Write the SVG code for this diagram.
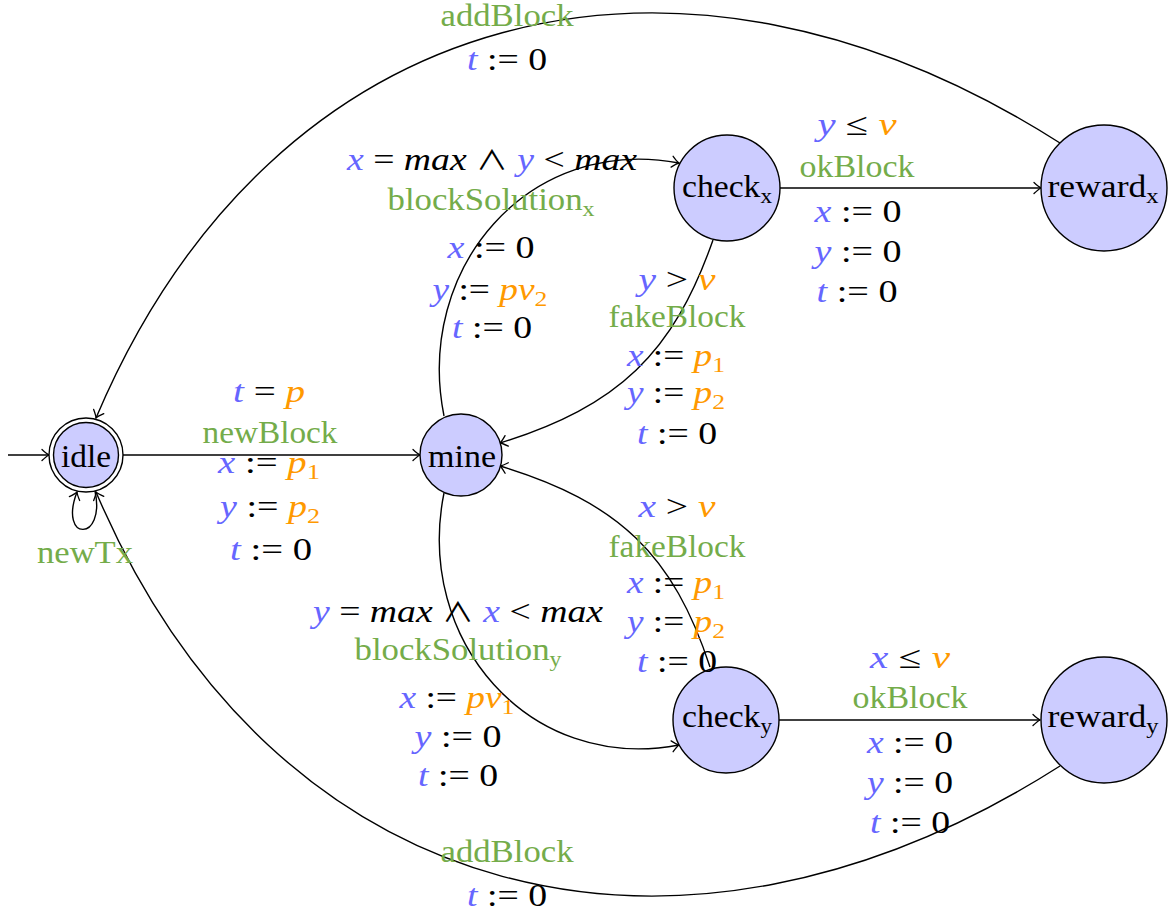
<svg xmlns="http://www.w3.org/2000/svg" width="1170" height="913" viewBox="0 0 1170 913">
<defs>
<marker id="arr" viewBox="-10 -8 12 16" markerWidth="12" markerHeight="16" refX="0" refY="0" orient="auto" markerUnits="userSpaceOnUse" overflow="visible">
<path d="M -7 -5.5 Q -2.5 -1.2 0 0 Q -2.5 1.2 -7 5.5" fill="none" stroke="#000" stroke-width="1.3" stroke-linecap="round"/>
</marker>
<style>
.edge{fill:none;stroke:#000;stroke-width:1.4;marker-end:url(#arr)}
.node{fill:#CCCCFF;stroke:#000;stroke-width:1.4}
text{font-family:"Liberation Serif","DejaVu Serif",serif;font-size:32px;text-anchor:middle;fill:#000}
.v{fill:#6666FF;font-style:italic}
.o{fill:#FF9900;font-style:italic}
.os{fill:#FF9900;font-size:22px}
.g{fill:#74AC4A}
.i{font-style:italic}
.s{font-size:22px}
.w{font-family:"Noto Sans CJK JP","DejaVu Sans",sans-serif;font-size:27px}
</style>
</defs>
<rect width="1170" height="913" fill="#fff"/>

<g id="connectors">
<path class="edge" d="M 8 455 L 49 455"/>
<path class="edge" d="M 123 455 L 420 455"/>
<path class="edge" d="M 95 491 C 106 542, 58 542, 77 492"/>
<path class="edge" d="M 1060 143 C 680.7 -99.1, 273.3 -0.55, 96 418"/>
<path class="edge" d="M 1060 766 C 680.7 1008, 273.3 909.5, 96 492"/>
<path class="edge" d="M 444 416 C 414.5 269, 528 134.5, 679 163"/>
<path class="edge" d="M 713 240 C 673.4 352.8, 619 406, 500 443"/>
<path class="edge" d="M 444 493 C 414.5 639, 528 773.5, 679 745"/>
<path class="edge" d="M 710 667 C 673.4 555.2, 619 502, 500 466"/>
<path class="edge" d="M 780 188 L 1041 188"/>
<path class="edge" d="M 779 720 L 1040 720"/>
</g>

<g id="idle">
<circle cx="86" cy="455" r="37" fill="#fff" stroke="#000" stroke-width="1.4"/>
<circle cx="86" cy="455" r="32.5" class="node"/>
<text x="86" y="467" textLength="50" lengthAdjust="spacingAndGlyphs">idle</text>
</g>
<g id="mine">
<circle cx="461" cy="455" r="41" class="node"/>
<text x="462" y="467" textLength="68" lengthAdjust="spacingAndGlyphs">mine</text>
</g>
<g id="check_x">
<circle cx="727" cy="188" r="53" class="node"/>
<text x="727" y="197" textLength="90" lengthAdjust="spacingAndGlyphs">check<tspan class="s" dy="6">x</tspan></text>
</g>
<g id="reward_x">
<circle cx="1104" cy="188" r="63" class="node"/>
<text x="1103" y="197" textLength="111" lengthAdjust="spacingAndGlyphs">reward<tspan class="s" dy="6">x</tspan></text>
</g>
<g id="check_y">
<circle cx="726" cy="720" r="53" class="node"/>
<text x="727" y="727" textLength="90" lengthAdjust="spacingAndGlyphs">check<tspan class="s" dy="6">y</tspan></text>
</g>
<g id="reward_y">
<circle cx="1104" cy="720" r="63" class="node"/>
<text x="1103" y="727" textLength="111" lengthAdjust="spacingAndGlyphs">reward<tspan class="s" dy="6">y</tspan></text>
</g>

<g id="edge-labels">
<!-- idle -> mine -->
<text x="269" y="402" textLength="72" lengthAdjust="spacingAndGlyphs"><tspan class="v">t</tspan> = <tspan class="o">p</tspan></text>
<text x="270" y="443" class="g" textLength="135" lengthAdjust="spacingAndGlyphs">newBlock</text>
<text x="269" y="473" textLength="102" lengthAdjust="spacingAndGlyphs"><tspan class="v">x</tspan> := <tspan class="o">p</tspan><tspan class="os" dy="6">1</tspan></text>
<text x="270" y="517" textLength="100" lengthAdjust="spacingAndGlyphs"><tspan class="v">y</tspan> := <tspan class="o">p</tspan><tspan class="os" dy="6">2</tspan></text>
<text x="271" y="560" textLength="82" lengthAdjust="spacingAndGlyphs"><tspan class="v">t</tspan> := 0</text>
<!-- idle loop -->
<text x="85" y="563" class="g" textLength="96" lengthAdjust="spacingAndGlyphs">newTx</text>
<!-- reward_x -> idle -->
<text x="507" y="26" class="g" textLength="133" lengthAdjust="spacingAndGlyphs">addBlock</text>
<text x="507" y="70" textLength="80" lengthAdjust="spacingAndGlyphs"><tspan class="v">t</tspan> := 0</text>
<!-- reward_y -> idle -->
<text x="507" y="862" class="g" textLength="133" lengthAdjust="spacingAndGlyphs">addBlock</text>
<text x="507" y="906" textLength="80" lengthAdjust="spacingAndGlyphs"><tspan class="v">t</tspan> := 0</text>
<!-- mine -> check_x -->
<text x="492" y="170" textLength="290" lengthAdjust="spacingAndGlyphs"><tspan class="v">x</tspan> = <tspan class="i">max</tspan> <tspan class="w">∧</tspan> <tspan class="v">y</tspan> &lt; <tspan class="i">max</tspan></text>
<text x="491" y="210" class="g" textLength="207" lengthAdjust="spacingAndGlyphs">blockSolution<tspan class="s" dy="6">x</tspan></text>
<text x="491" y="258" textLength="87" lengthAdjust="spacingAndGlyphs"><tspan class="v">x</tspan> := 0</text>
<text x="490" y="300" textLength="115" lengthAdjust="spacingAndGlyphs"><tspan class="v">y</tspan> := <tspan class="o">pv</tspan><tspan class="os" dy="6">2</tspan></text>
<text x="492" y="338" textLength="80" lengthAdjust="spacingAndGlyphs"><tspan class="v">t</tspan> := 0</text>
<!-- check_x -> mine -->
<text x="677" y="290" textLength="77" lengthAdjust="spacingAndGlyphs"><tspan class="v">y</tspan> &gt; <tspan class="o">v</tspan></text>
<text x="677" y="327" class="g" textLength="137" lengthAdjust="spacingAndGlyphs">fakeBlock</text>
<text x="676" y="366" textLength="98" lengthAdjust="spacingAndGlyphs"><tspan class="v">x</tspan> := <tspan class="o">p</tspan><tspan class="os" dy="6">1</tspan></text>
<text x="676" y="403" textLength="98" lengthAdjust="spacingAndGlyphs"><tspan class="v">y</tspan> := <tspan class="o">p</tspan><tspan class="os" dy="6">2</tspan></text>
<text x="677" y="444" textLength="80" lengthAdjust="spacingAndGlyphs"><tspan class="v">t</tspan> := 0</text>
<!-- check_y -> mine -->
<text x="677" y="517" textLength="77" lengthAdjust="spacingAndGlyphs"><tspan class="v">x</tspan> &gt; <tspan class="o">v</tspan></text>
<text x="677" y="557" class="g" textLength="137" lengthAdjust="spacingAndGlyphs">fakeBlock</text>
<text x="676" y="593" textLength="98" lengthAdjust="spacingAndGlyphs"><tspan class="v">x</tspan> := <tspan class="o">p</tspan><tspan class="os" dy="6">1</tspan></text>
<text x="676" y="632" textLength="98" lengthAdjust="spacingAndGlyphs"><tspan class="v">y</tspan> := <tspan class="o">p</tspan><tspan class="os" dy="6">2</tspan></text>
<text x="677" y="672" textLength="80" lengthAdjust="spacingAndGlyphs"><tspan class="v">t</tspan> := 0</text>
<!-- mine -> check_y -->
<text x="458" y="622" textLength="290" lengthAdjust="spacingAndGlyphs"><tspan class="v">y</tspan> = <tspan class="i">max</tspan> <tspan class="w">∧</tspan> <tspan class="v">x</tspan> &lt; <tspan class="i">max</tspan></text>
<text x="458" y="660" class="g" textLength="207" lengthAdjust="spacingAndGlyphs">blockSolution<tspan class="s" dy="6">y</tspan></text>
<text x="457" y="708" textLength="115" lengthAdjust="spacingAndGlyphs"><tspan class="v">x</tspan> := <tspan class="o">pv</tspan><tspan class="os" dy="6">1</tspan></text>
<text x="458" y="747" textLength="87" lengthAdjust="spacingAndGlyphs"><tspan class="v">y</tspan> := 0</text>
<text x="458" y="786" textLength="80" lengthAdjust="spacingAndGlyphs"><tspan class="v">t</tspan> := 0</text>
<!-- check_x -> reward_x -->
<text x="857" y="135" textLength="79" lengthAdjust="spacingAndGlyphs"><tspan class="v">y</tspan> ≤ <tspan class="o">v</tspan></text>
<text x="857" y="177" class="g" textLength="115" lengthAdjust="spacingAndGlyphs">okBlock</text>
<text x="858" y="222" textLength="87" lengthAdjust="spacingAndGlyphs"><tspan class="v">x</tspan> := 0</text>
<text x="858" y="262" textLength="87" lengthAdjust="spacingAndGlyphs"><tspan class="v">y</tspan> := 0</text>
<text x="857" y="302" textLength="81" lengthAdjust="spacingAndGlyphs"><tspan class="v">t</tspan> := 0</text>
<!-- check_y -> reward_y -->
<text x="910" y="668" textLength="80" lengthAdjust="spacingAndGlyphs"><tspan class="v">x</tspan> ≤ <tspan class="o">v</tspan></text>
<text x="910" y="708" class="g" textLength="115" lengthAdjust="spacingAndGlyphs">okBlock</text>
<text x="910" y="753" textLength="86" lengthAdjust="spacingAndGlyphs"><tspan class="v">x</tspan> := 0</text>
<text x="910" y="793" textLength="86" lengthAdjust="spacingAndGlyphs"><tspan class="v">y</tspan> := 0</text>
<text x="910" y="833" textLength="80" lengthAdjust="spacingAndGlyphs"><tspan class="v">t</tspan> := 0</text>
</g>
</svg>
